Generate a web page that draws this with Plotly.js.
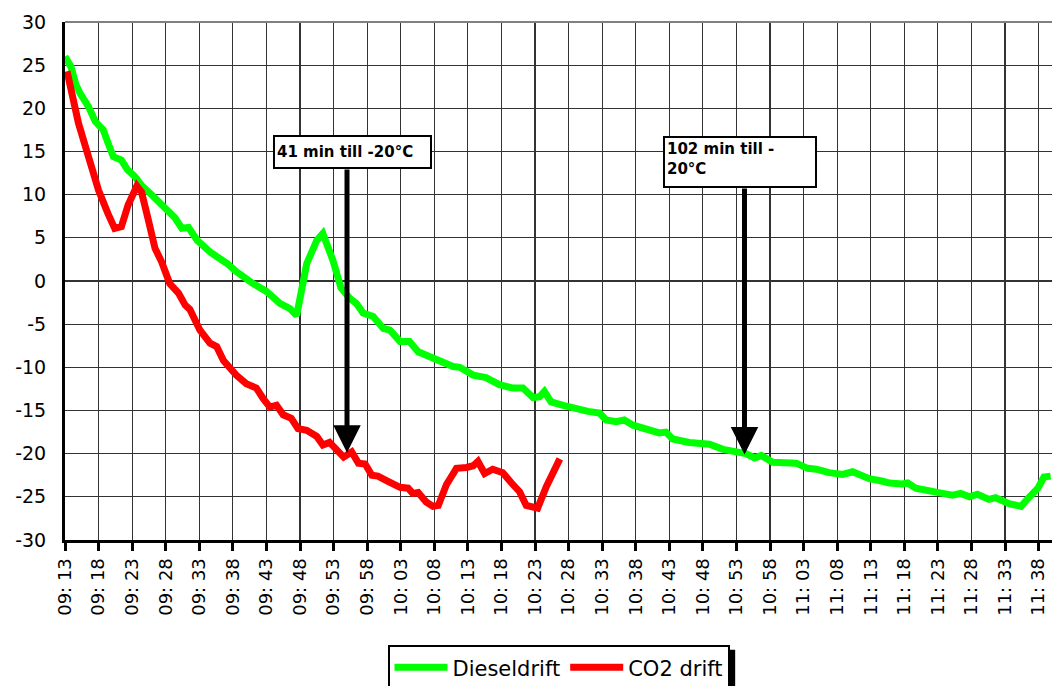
<!DOCTYPE html>
<html>
<head>
<meta charset="utf-8">
<script src="https://cdn.plot.ly/plotly-3.0.1.min.js"></script>
<style>html,body{margin:0;padding:0;background:#fff;}#chart{width:1053px;height:686px;}</style>
</head>
<body>
<div id="chart"></div>
<script>
// x positions are minutes after 09:13
const tickLabels = ['09: 13','09: 18','09: 23','09: 28','09: 33','09: 38','09: 43','09: 48','09: 53','09: 58',
  '10: 03','10: 08','10: 13','10: 18','10: 23','10: 28','10: 33','10: 38','10: 43','10: 48',
  '10: 53','10: 58','11: 03','11: 08','11: 13','11: 18','11: 23','11: 28','11: 33','11: 38'];
const yTickValues = [-30,-25,-20,-15,-10,-5,0,5,10,15,20,25,30];
const yTickLabels = ['-30','-25','-20','-15','-10','-5','0','5','10','15','20','25','30'];

const dieselMin = [0,0.9,1.6,2.2,3.5,4.5,5.2,5.7,6.5,7.2,8.4,9.3,10.4,11.5,12.9,14.1,15.4,16.4,17.4,18.4,
  19.7,21.7,24.2,25.5,28,30,32,33.5,34.5,36,37.5,38.4,39.9,41.1,42.4,43.4,44.4,45.9,47.4,48.4,
  49.9,51.3,52.6,53.8,55.3,56.3,57.8,58.8,60.8,62.7,64.7,66.7,68.2,69.7,70.7,71.4,72.4,74.2,76.1,77.9,
  79.6,80.6,82.1,83.3,84.6,86.6,88.5,89.5,90.5,93,95,96,98,100,101.4,102.7,103.7,105.4,106.9,108.9,
  110.6,111.9,113.8,115.8,117.3,119.8,121.8,122.8,124.7,125.5,126.7,127.7,129.7,130.7,132.2,133.4,134.7,135.9,137.6,138.6,
  140.6,142.4,143.4,144.9,145.8,146.8];
const dieselTemp = [26.0,24.8,22.8,21.8,20.2,18.5,17.9,17.5,15.8,14.4,14.0,12.9,12.1,11.0,10.0,9.0,7.9,7.3,6.1,6.2,
  4.7,3.3,2.0,1.1,-0.3,-1.2,-2.6,-3.2,-4.0,2.0,4.7,5.5,2.4,-0.8,-2.0,-2.6,-3.7,-4.1,-5.5,-5.7,
  -7.0,-7.0,-8.2,-8.6,-9.1,-9.4,-9.9,-10.0,-10.9,-11.2,-12.0,-12.4,-12.4,-13.5,-13.4,-12.8,-14.0,-14.4,-14.8,-15.1,
  -15.3,-16.1,-16.3,-16.1,-16.7,-17.1,-17.6,-17.5,-18.3,-18.7,-18.9,-18.9,-19.5,-19.9,-20.0,-20.5,-20.2,-21.0,-21.0,-21.1,
  -21.7,-21.8,-22.2,-22.4,-22.1,-22.9,-23.2,-23.4,-23.5,-23.4,-24.0,-24.1,-24.5,-24.6,-24.8,-24.6,-25.0,-24.7,-25.3,-25.1,
  -25.8,-26.1,-25.2,-24.0,-22.7,-22.6];

const co2Min = [0.3,1.5,2.0,3.5,5.0,6.4,7.4,8.4,9.4,10.7,11.4,12.4,13.4,14.4,15.6,16.9,17.9,18.6,20.1,21.6,
  22.6,23.6,25.5,27,28.5,29.5,30.5,31.5,32.5,33.7,34.7,36,37.5,38.4,39.4,41.5,42.7,43.7,44.7,45.7,
  46.6,48.1,49.9,51.1,51.8,52.6,53.8,54.8,55.6,56.8,58.3,59.8,60.8,61.5,62.5,63.7,65.2,66.5,67.7,68.7,
  70.4,71.7,73.7];
const co2Temp = [24.3,19.6,18.3,14.4,10.5,7.8,6.1,6.3,8.8,11.0,10.3,7.1,3.8,2.2,-0.3,-1.4,-2.8,-3.3,-5.7,-7.2,
  -7.6,-9.2,-10.9,-11.9,-12.4,-13.6,-14.6,-14.4,-15.5,-15.9,-17.1,-17.3,-18.0,-19.0,-18.7,-20.4,-19.8,-21.1,-21.2,-22.5,
  -22.6,-23.2,-23.9,-24.0,-24.6,-24.5,-25.6,-26.1,-26.0,-23.6,-21.7,-21.6,-21.4,-20.9,-22.3,-21.8,-22.2,-23.4,-24.4,-26.0,
  -26.3,-23.8,-20.6];

const seriesNames = ['Dieseldrift', 'CO2 drift'];
const noteTexts = ['41 min till -20°C', '102 min till -<br>20°C'];

const FONT = 'DejaVu Sans, Verdana, sans-serif';

const traces = [
  {x: dieselMin, y: dieselTemp, name: seriesNames[0], type: 'scatter', mode: 'lines',
   line: {color: '#00ff00', width: 7}},
  {x: co2Min, y: co2Temp, name: seriesNames[1], type: 'scatter', mode: 'lines',
   line: {color: '#ff0000', width: 7}}
];

const tickVals = tickLabels.map((_, i) => i * 5);

const layout = {
  width: 1053, height: 686,
  margin: {l: 65, r: 1, t: 22, b: 146, autoexpand: false},
  paper_bgcolor: '#ffffff', plot_bgcolor: '#ffffff',
  font: {family: FONT, color: '#000'},
  showlegend: true,
  legend: {
    orientation: 'h', x: 0.5, xanchor: 'center', y: -0.203, yanchor: 'top',
    bordercolor: '#000', borderwidth: 2, bgcolor: '#fff',
    font: {family: FONT, size: 21, color: '#000'},
    itemwidth: 53, tracegroupgap: 0
  },
  xaxis: {
    range: [0, 147], tickvals: tickVals, ticktext: tickLabels, tickangle: -90,
    tickfont: {family: FONT, size: 18, color: '#000'},
    ticks: 'outside', ticklen: 8, tickwidth: 3, tickcolor: '#000',
    showline: true, linecolor: '#000', linewidth: 3,
    showgrid: true, gridcolor: '#333', gridwidth: 1.2,
    zeroline: false, fixedrange: true, automargin: false
  },
  yaxis: {
    range: [-30, 30], tickvals: yTickValues, ticktext: yTickLabels,
    tickfont: {family: FONT, size: 19, color: '#000'},
    ticks: '', ticklabelstandoff: 12,
    showline: true, linecolor: '#000', linewidth: 3,
    showgrid: true, gridcolor: '#333', gridwidth: 1.2,
    zeroline: false, fixedrange: true, automargin: false
  },
  shapes: [
    {type: 'line', xref: 'paper', yref: 'paper', x0: 0, x1: 1, y0: 1, y1: 1,
     line: {color: '#808080', width: 2}},
    {type: 'rect', xref: 'paper', yref: 'paper', x0: 0.33, x1: 0.679, y0: -0.35, y1: -0.212,
     fillcolor: '#000', line: {width: 0}, layer: 'above'}
  ],
  annotations: [
    {x: 42, y: -19.9, ax: 42, ay: 13.1, axref: 'x', ayref: 'y', xref: 'x', yref: 'y',
     text: '', showarrow: true, arrowhead: 2, arrowsize: 1.1, arrowwidth: 5, arrowcolor: '#000', standoff: 0},
    {x: 101.2, y: -20.1, ax: 101.2, ay: 10.9, axref: 'x', ayref: 'y', xref: 'x', yref: 'y',
     text: '', showarrow: true, arrowhead: 2, arrowsize: 1.1, arrowwidth: 5, arrowcolor: '#000', standoff: 0},
    {x: 30.95, y: 16.9, xref: 'x', yref: 'y', xanchor: 'left', yanchor: 'top',
     text: '<b>' + noteTexts[0] + '</b>', showarrow: false, align: 'left',
     font: {family: FONT, size: 15, color: '#000'},
     bgcolor: '#fff', bordercolor: '#000', borderwidth: 2, borderpad: 2, width: 151, height: 26},
    {x: 89.0, y: 16.8, xref: 'x', yref: 'y', xanchor: 'left', yanchor: 'top',
     text: '<b>' + noteTexts[1] + '</b>', showarrow: false, align: 'left', valign: 'top',
     font: {family: FONT, size: 15, color: '#000'},
     bgcolor: '#fff', bordercolor: '#000', borderwidth: 2, borderpad: 2, width: 146, height: 44}
  ]
};

Plotly.newPlot('chart', traces, layout, {displayModeBar: false, staticPlot: true});
</script>
</body>
</html>
